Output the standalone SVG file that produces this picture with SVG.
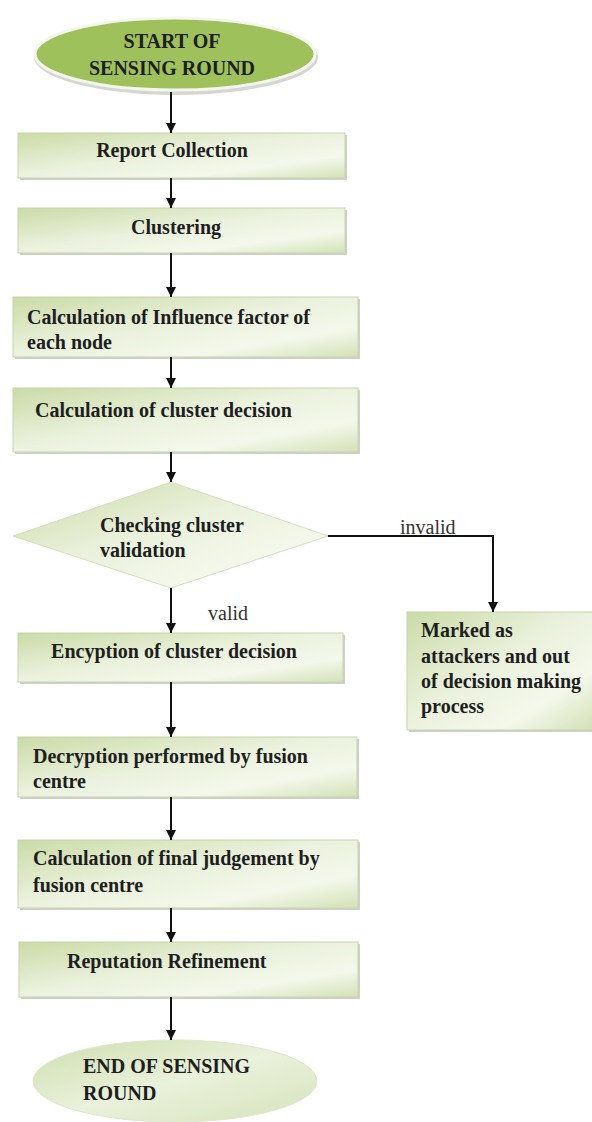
<svg xmlns="http://www.w3.org/2000/svg" width="592" height="1122" viewBox="0 0 592 1122">
<defs>
<linearGradient id="boxg" x1="0" y1="0" x2="1" y2="1">
<stop offset="0" stop-color="#cbdba6"/>
<stop offset="0.45" stop-color="#eaf1dc"/>
<stop offset="0.75" stop-color="#f4f8ec"/>
<stop offset="1" stop-color="#d3e1b6"/>
</linearGradient>
<linearGradient id="endg" x1="0" y1="0" x2="1" y2="1">
<stop offset="0" stop-color="#cfdeae"/>
<stop offset="0.5" stop-color="#eaf1dc"/>
<stop offset="1" stop-color="#d6e3bb"/>
</linearGradient>
<marker id="arr" viewBox="0 0 10 10" refX="10" refY="5" markerWidth="10" markerHeight="10" markerUnits="userSpaceOnUse" orient="auto">
<path d="M0,0 L10,5 L0,10 z" fill="#111"/>
</marker>
</defs>
<style>
.box{fill:url(#boxg);stroke:#c8d4ae;stroke-width:1}
.sh{fill:#b9bdb0;opacity:0.7}
.t{font-family:"Liberation Serif","Times New Roman",serif;font-weight:bold;font-size:20px;fill:#1e1e1e}
.c{text-anchor:middle}
.lbl{font-family:"Liberation Serif","Times New Roman",serif;font-size:20px;fill:#333}
.ln{stroke:#111;stroke-width:2;fill:none}
</style>
<rect width="592" height="1122" fill="#fff"/>

<g id="start">
<ellipse cx="176" cy="57" rx="142" ry="38" fill="#c4c6bf" opacity="0.7"/>
<ellipse cx="175" cy="54" rx="140" ry="36" fill="#9fc15c" stroke="#f4f7ee" stroke-width="3"/>
<text class="t c" x="172" y="48" font-size="19">START OF</text>
<text class="t c" x="172" y="75" font-size="19">SENSING ROUND</text>
</g>

<g id="report">
<rect class="sh" x="20" y="135" width="327" height="45"/>
<rect class="box" x="18" y="133" width="327" height="45"/>
<text class="t c" x="172" y="157">Report Collection</text>
</g>

<g id="clustering">
<rect class="sh" x="20" y="210" width="327" height="45"/>
<rect class="box" x="18" y="208" width="327" height="45"/>
<text class="t c" x="176" y="234">Clustering</text>
</g>

<g id="influence">
<rect class="sh" x="15" y="299" width="345" height="60"/>
<rect class="box" x="13" y="297" width="345" height="60"/>
<text class="t" x="27" y="324">Calculation of Influence factor of</text>
<text class="t" x="27" y="349">each node</text>
</g>

<g id="clusterdecision">
<rect class="sh" x="15" y="390" width="345" height="64"/>
<rect class="box" x="13" y="388" width="345" height="64"/>
<text class="t" x="35" y="417">Calculation of cluster decision</text>
</g>

<g id="check">
<polygon points="171,482 328,536 171,588 13,536" fill="url(#boxg)" stroke="#d5dfc0" stroke-width="1"/>
<text class="t" x="100" y="532">Checking cluster</text>
<text class="t" x="100" y="557">validation</text>
</g>

<g id="marked">
<rect class="sh" x="409" y="614" width="185" height="118"/>
<rect class="box" x="407" y="612" width="186" height="118"/>
<text class="t" x="421" y="637">Marked as</text>
<text class="t" x="421" y="663">attackers and out</text>
<text class="t" x="421" y="688">of decision making</text>
<text class="t" x="421" y="713">process</text>
</g>

<g id="encryption">
<rect class="sh" x="20" y="635" width="325" height="49"/>
<rect class="box" x="18" y="633" width="325" height="49"/>
<text class="t c" x="174" y="658">Encyption of cluster decision</text>
</g>

<g id="decryption">
<rect class="sh" x="20" y="739" width="339" height="60"/>
<rect class="box" x="18" y="737" width="339" height="60"/>
<text class="t" x="33" y="763">Decryption performed  by fusion</text>
<text class="t" x="33" y="788">centre</text>
</g>

<g id="final">
<rect class="sh" x="20" y="842" width="340" height="68"/>
<rect class="box" x="18" y="840" width="340" height="68"/>
<text class="t" x="33" y="865">Calculation of final judgement by</text>
<text class="t" x="33" y="892">fusion centre</text>
</g>

<g id="reputation">
<rect class="sh" x="21" y="944" width="339" height="55"/>
<rect class="box" x="19" y="942" width="339" height="55"/>
<text class="t" x="67" y="968">Reputation  Refinement</text>
</g>

<g id="end">
<ellipse cx="175" cy="1081" rx="142" ry="41" fill="url(#endg)" stroke="#dfe7cd" stroke-width="1"/>
<text class="t" x="83" y="1073">END OF SENSING</text>
<text class="t" x="83" y="1100">ROUND</text>
</g>

<g id="connectors">
<line class="ln" x1="171" y1="92" x2="171" y2="133" marker-end="url(#arr)"/>
<line class="ln" x1="171" y1="178" x2="171" y2="208" marker-end="url(#arr)"/>
<line class="ln" x1="171" y1="253" x2="171" y2="297" marker-end="url(#arr)"/>
<line class="ln" x1="171" y1="357" x2="171" y2="388" marker-end="url(#arr)"/>
<line class="ln" x1="171" y1="452" x2="171" y2="482" marker-end="url(#arr)"/>
<line class="ln" x1="171" y1="588" x2="171" y2="633" marker-end="url(#arr)"/>
<line class="ln" x1="171" y1="682" x2="171" y2="737" marker-end="url(#arr)"/>
<line class="ln" x1="171" y1="797" x2="171" y2="840" marker-end="url(#arr)"/>
<line class="ln" x1="171" y1="908" x2="171" y2="942" marker-end="url(#arr)"/>
<line class="ln" x1="171" y1="997" x2="171" y2="1040" marker-end="url(#arr)"/>
<polyline class="ln" points="328,536 493,536 493,612" marker-end="url(#arr)"/>
<text class="lbl" x="400" y="534">invalid</text>
<text class="lbl" x="208" y="620">valid</text>
</g>
</svg>
